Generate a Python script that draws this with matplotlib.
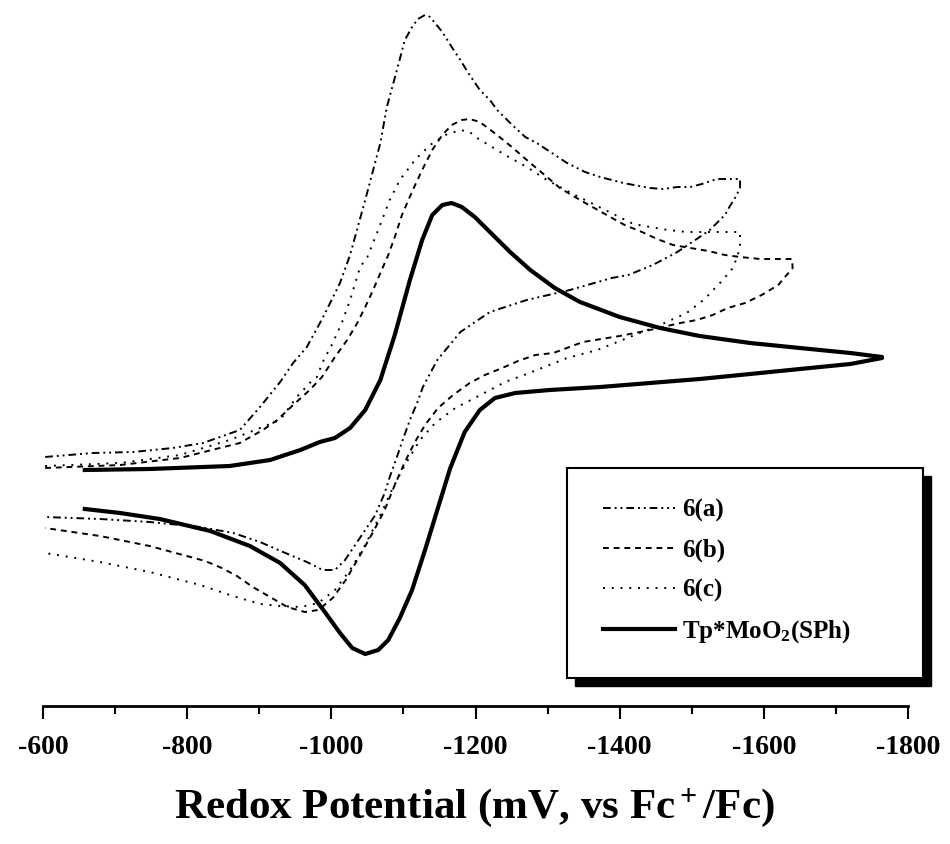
import matplotlib
matplotlib.use("Agg")
import matplotlib.pyplot as plt
from matplotlib.patches import Rectangle

plt.rcParams['font.family'] = ['Liberation Serif', 'DejaVu Serif']
plt.rcParams['font.weight'] = 'bold'
plt.rcParams['mathtext.fontset'] = 'custom'
plt.rcParams['mathtext.rm'] = 'Liberation Serif:bold'
plt.rcParams['mathtext.it'] = 'Liberation Serif:bold'
plt.rcParams['mathtext.bf'] = 'Liberation Serif:bold'

# potential (mV vs Fc+/Fc) and current (arb. units), forward sweep then return
a_v = [-603, -669, -725, -780, -822, -873, -901, -929, -947, -966,
       -988, -1012, -1026, -1047, -1068, -1077, -1091, -1102, -1112, -1120,
       -1130, -1137, -1154, -1167, -1179, -1190, -1206, -1220, -1230, -1251,
       -1269, -1285, -1306, -1327, -1352, -1373, -1405, -1442, -1460, -1480,
       -1498, -1514, -1535, -1567,
       -1567, -1560, -1553, -1546, -1525, -1511, -1480, -1446, -1412, -1389,
       -1331, -1271, -1220, -1179, -1147, -1127, -1119, -1109, -1099, -1091,
       -1081, -1074, -1061, -1047, -1033, -1019, -1005, -988, -966, -933,
       -901, -864, -818, -748, -679, -603]
a_i = [1.3, 1.7, 1.8, 2.2, 2.7, 4.0, 6.3, 8.8, 10.7, 12.3,
       15.2, 18.7, 21.5, 27.0, 32.7, 36.3, 40.0, 43.0, 44.3, 45.1,
       45.5, 45.3, 43.8, 42.3, 41.0, 39.7, 38.0, 37.0, 36.0, 34.5,
       33.3, 32.7, 31.7, 30.7, 29.8, 29.3, 28.7, 28.2, 28.1, 28.3,
       28.3, 28.6, 29.1, 29.1,
       28.2, 27.2, 26.4, 25.5, 24.0, 23.3, 21.8, 20.5, 19.5, 19.2,
       18.0, 17.0, 15.8, 13.8, 11.0, 8.3, 6.7, 5.0, 3.0, 1.3,
       -0.7, -2.3, -4.5, -6.0, -7.5, -9.0, -10.0, -10.0, -9.2, -8.2,
       -7.2, -6.3, -5.7, -5.2, -4.9, -4.7]

b_v = [-603, -707, -790, -873, -905, -925, -947, -970, -987, -1005,
       -1022, -1036, -1047, -1058, -1068, -1079, -1088, -1098, -1113, -1126,
       -1140, -1154, -1167, -1181, -1192, -1206, -1230, -1252, -1276, -1296,
       -1317, -1345, -1382, -1407, -1431, -1452, -1474, -1498, -1523, -1546,
       -1567, -1595, -1639,
       -1640, -1620, -1597, -1574, -1550, -1529, -1507, -1484, -1442, -1400,
       -1349, -1308, -1283, -1259, -1237, -1213, -1192, -1169, -1148, -1130,
       -1116, -1102, -1088, -1074, -1058, -1040, -1020, -1002, -982, -963,
       -939, -915, -891, -869, -848, -825, -748, -679, -603]
b_i = [0.2, 0.5, 1.2, 2.7, 4.0, 5.0, 6.5, 8.0, 9.3, 11.3,
       13.0, 14.7, 16.3, 18.0, 19.7, 21.5, 23.3, 25.5, 28.0, 30.0,
       32.0, 33.5, 34.5, 35.0, 35.1, 34.8, 33.5, 32.2, 30.7, 29.5,
       28.2, 27.0, 25.5, 24.5, 23.8, 23.1, 22.5, 22.2, 21.9, 21.5,
       21.3, 21.1, 21.1,
       20.2, 18.5, 17.5, 16.7, 16.2, 15.5, 15.0, 14.7, 14.0, 13.4,
       12.8, 11.7, 11.5, 10.9, 10.2, 9.5, 8.7, 7.5, 6.2, 4.5,
       2.8, 0.8, -1.5, -4.0, -6.2, -8.5, -11.0, -12.8, -14.0, -14.2,
       -13.7, -12.7, -11.7, -10.6, -9.8, -9.1, -7.6, -6.6, -5.8]

c_v = [-603, -707, -790, -859, -901, -929, -952, -970, -980, -988,
       -1002, -1015, -1026, -1040, -1050, -1065, -1081, -1095, -1116, -1137,
       -1158, -1179, -1192, -1202, -1223, -1241, -1271, -1299, -1338, -1380,
       -1419, -1442, -1467, -1493, -1525, -1549, -1567,
       -1567, -1564, -1557, -1543, -1518, -1493, -1456, -1414, -1369, -1327,
       -1271, -1241, -1199, -1172, -1144, -1123, -1102, -1084, -1068, -1047,
       -1026, -1005, -982, -957, -929, -901, -859, -818, -748, -679,
       -603]
c_i = [0.4, 0.7, 1.5, 3.0, 4.2, 5.0, 7.3, 8.7, 9.3, 10.8,
       12.7, 14.8, 17.0, 20.3, 21.3, 24.0, 27.0, 29.0, 31.0, 32.5,
       33.5, 34.0, 33.8, 33.2, 32.3, 31.5, 30.3, 29.0, 27.5, 26.0,
       24.6, 24.3, 24.0, 23.8, 23.8, 23.8, 23.8,
       22.5, 21.5, 20.2, 19.0, 17.1, 15.7, 14.5, 13.3, 12.0, 11.2,
       9.6, 8.8, 7.2, 6.2, 4.7, 3.0, 0.5, -2.0, -4.5, -7.5,
       -10.0, -12.0, -13.3, -13.7, -13.6, -13.4, -12.5, -11.5, -10.2, -9.2,
       -8.3]

tp_v = [-658, -748, -859, -915, -957, -984, -1005, -1026, -1047, -1068,
        -1088, -1109, -1126, -1140, -1154, -1167, -1181, -1199, -1220, -1248,
        -1276, -1310, -1345, -1400, -1456, -1511, -1581, -1650, -1720, -1764,
        -1764, -1720, -1650, -1581, -1511, -1442, -1373, -1303, -1255, -1227,
        -1206, -1185, -1165, -1147, -1130, -1112, -1095, -1079, -1065, -1047,
        -1029, -1012, -991, -963, -929, -887, -832, -762, -707, -658]
tp_i = [0.0, 0.1, 0.4, 1.0, 2.0, 2.8, 3.2, 4.2, 6.0, 9.0,
        13.5, 19.0, 23.0, 25.5, 26.5, 26.7, 26.3, 25.3, 23.8, 21.8,
        20.0, 18.2, 16.8, 15.3, 14.2, 13.4, 12.7, 12.2, 11.7, 11.3,
        11.2, 10.6, 10.1, 9.6, 9.1, 8.7, 8.3, 8.0, 7.7, 7.2,
        6.0, 3.8, 0.2, -4.0, -8.0, -12.0, -14.8, -17.0, -18.0, -18.4,
        -17.8, -16.3, -14.2, -11.5, -9.3, -7.6, -6.1, -4.9, -4.3, -3.9]

labels = ['6(a)', '6(b)', '6(c)', 'Tp*MoO$_2$(SPh)']
ticks = [-600, -800, -1000, -1200, -1400, -1600, -1800]
minor_ticks = [-700, -900, -1100, -1300, -1500, -1700]

fig = plt.figure(figsize=(9.5, 8.44), dpi=100)
ax = fig.add_axes([43 / 950, 138 / 844, 865 / 950, 706 / 844])

ax.plot(a_v, a_i, color='black', lw=1.4, ls=(0, (4, 2, 1, 2, 1, 2)), label=labels[0])
ax.plot(b_v, b_i, color='black', lw=1.4, ls=(0, (3, 2.5)), label=labels[1])
ax.plot(c_v, c_i, color='black', lw=1.4, ls=(0, (1, 3.5)), label=labels[2])
ax.plot(tp_v, tp_i, color='black', lw=3, ls='-', label=labels[3])

ax.set_xlim(-600, -1800)
ax.set_ylim(-23.6, 47.0)
ax.set_xticks(ticks)
ax.set_xticklabels([str(t) for t in ticks])
ax.set_xticks(minor_ticks, minor=True)
ax.tick_params(axis='x', which='major', direction='out', length=9, width=1.5,
               labelsize=20, pad=12)
ax.tick_params(axis='x', which='minor', direction='out', length=6, width=1.5)
ax.set_yticks([])
for s in ['left', 'right', 'top']:
    ax.spines[s].set_visible(False)
ax.spines['bottom'].set_linewidth(2)

fig.text(474 / 950, 1 - 808 / 844, 'Redox Potential (mV, vs Fc$^+$/Fc)',
         ha='center', va='center', fontsize=31, fontweight='bold')

# legend frame with offset black shadow
fig.add_artist(Rectangle((575 / 950, 1 - 686 / 844), 356 / 950, 210 / 844,
                         transform=fig.transFigure, facecolor='black',
                         edgecolor='black', zorder=2))
fig.add_artist(Rectangle((567 / 950, 1 - 678 / 844), 356 / 950, 210 / 844,
                         transform=fig.transFigure, facecolor='white',
                         edgecolor='black', lw=1.5, zorder=3))
handles, _ = ax.get_legend_handles_labels()
fig.legend(handles, labels, loc='upper left',
           bbox_to_anchor=(580 / 950, 1 - 476 / 844), frameon=False,
           prop={'family': 'Liberation Serif', 'weight': 'bold', 'size': 18},
           handlelength=2.9, handletextpad=0.3, labelspacing=0.66)

fig.savefig('out.png', dpi=100)
